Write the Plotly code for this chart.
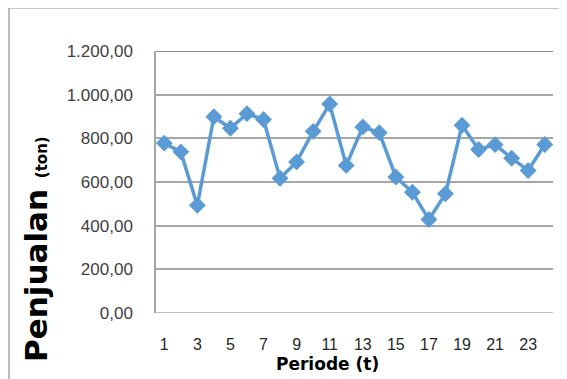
import plotly.graph_objects as go

periods = list(range(1, 25))
penjualan = [778, 738, 493, 899, 846, 913, 886, 617, 692, 832, 957, 676,
             852, 826, 623, 553, 428, 546, 860, 749, 771, 709, 653, 772]
y_ticks = [0, 200, 400, 600, 800, 1000, 1200]
y_ticklabels = ["0,00", "200,00", "400,00", "600,00", "800,00", "1.000,00", "1.200,00"]
x_ticks = list(range(1, 25, 2))

# page has an 8px body offset; work in page coordinates and subtract it
OFF = 8
W, H = 567 - OFF, 379 - OFF
ml, mr, mt, mb = 156 - OFF, 567 - 553, 51 - OFF, 379 - 313
pw, ph = W - ml - mr, H - mt - mb


def px(x):
    return (x - OFF - ml) / pw


def py(y):
    return 1 - (y - OFF - mt) / ph


fig = go.Figure()
fig.add_trace(go.Scatter(
    x=periods, y=penjualan, mode="lines+markers",
    line=dict(color="#5b9bd5", width=3.5),
    marker=dict(symbol="diamond", size=13, color="#5b9bd5"),
    showlegend=False, hoverinfo="skip"))

font = "Liberation Sans"
title_font = "DejaVu Sans"
fig.update_layout(
    width=W, height=H,
    margin=dict(l=ml, r=mr, t=mt, b=mb, autoexpand=False),
    paper_bgcolor="white", plot_bgcolor="white",
    font=dict(family=font, color="#262626"),
    xaxis=dict(range=[0.5, 24.5], tickvals=x_ticks, ticktext=[str(v) for v in x_ticks],
               showgrid=False, zeroline=False, showline=False, ticks="",
               tickfont=dict(size=16, color="#262626"), ticklabelstandoff=20),
    yaxis=dict(range=[0, 1200], tickvals=y_ticks, ticktext=y_ticklabels,
               showgrid=True, gridcolor="#a6a6a6", gridwidth=1.5, zeroline=False,
               showline=True, linecolor="#a6a6a6", linewidth=1.5, ticks="",
               tickfont=dict(size=17, color="#404040"), ticklabelstandoff=18),
    shapes=[
        dict(type="line", xref="paper", yref="y", x0=0, x1=1, y0=0, y1=0,
             line=dict(color="#a6a6a6", width=1.5)),
        dict(type="line", xref="paper", yref="y", x0=0, x1=1, y0=1200, y1=1200,
             line=dict(color="#8c8c8c", width=2)),
        dict(type="rect", xref="paper", yref="paper",
             x0=px(9), x1=px(600), y0=py(420), y1=py(8),
             line=dict(color="#909090", width=1.2), layer="below"),
    ],
    annotations=[
        dict(text="<b>Penjualan <span style='font-size:15px'>(ton)</span></b>",
             xref="paper", yref="paper", x=px(36), y=py(249),
             textangle=-90, showarrow=False, font=dict(size=31, color="black", family=title_font),
             xanchor="center", yanchor="middle"),
        dict(text="<b>Periode (t)</b>", xref="paper", yref="paper",
             x=px(327), y=py(364), showarrow=False,
             font=dict(size=17, color="black", family=title_font),
             xanchor="center", yanchor="middle"),
    ],
)

fig.write_html("out.html")
